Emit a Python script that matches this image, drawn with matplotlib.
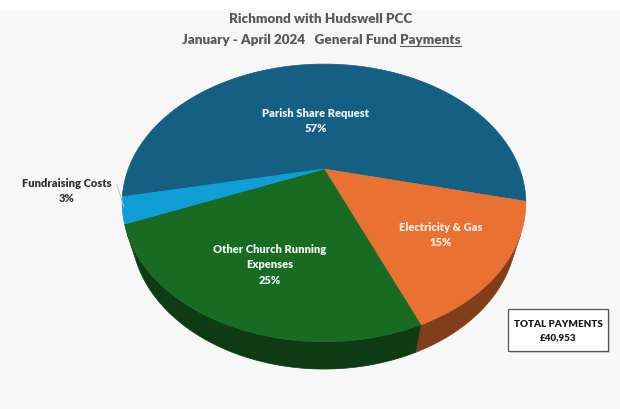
import numpy as np
import matplotlib
matplotlib.use("Agg")
import matplotlib.pyplot as plt
from matplotlib.patches import Polygon, Rectangle
from matplotlib.colors import to_rgb

# --- data ---
labels = ["Parish Share Request", "Electricity & Gas",
          "Other Church Running\nExpenses", "Fundraising Costs"]
percent = [57, 15, 25, 3]
colours = ["#156082", "#E97132", "#196B24", "#0F9ED5"]
total_text = "TOTAL PAYMENTS\n£40,953"

title_1 = "Richmond with Hudswell PCC"
title_2 = "January - April 2024   General Fund "
title_2_ul = "Payments"

plt.rcParams["font.family"] = ["Lato", "DejaVu Sans"]

# --- 3d pie projection (simple perspective camera) ---
CX, CY = 324, 170          # screen centre of the pie
SIN_E = 0.667
COS_E = np.sqrt(1 - SIN_E ** 2)
DIST = 3.05
FOC = 597
THICK = 0.202
START = 13.5               # degrees, first slice start, clockwise on screen


def project(t, z=0.0):
    px, py = np.cos(t), np.sin(t)
    depth = DIST - py * COS_E - z * SIN_E
    x = CX + FOC * px / depth
    y = CY + FOC * (py * SIN_E - z * COS_E) / depth
    return x, y


def darker(c, k=0.55):
    return tuple(v * k for v in to_rgb(c))


fig = plt.figure(figsize=(6.2, 4.1), dpi=100)
fig.patch.set_facecolor("#F7F7F7")
ax = fig.add_axes([0, 0, 1, 1])
ax.set_xlim(0, 620)
ax.set_ylim(410, 0)
ax.axis("off")
ax.add_patch(Rectangle((0, 0), 620, 10, color="white", zorder=0))

# slice angles
total = sum(percent)
angles = np.cumsum([0] + [p / total * 360 for p in percent])
# Parish Share is drawn first, starting so the second slice begins at START
a0 = np.radians(START - angles[1])
edges = a0 + np.radians(angles)

# visible part of the side wall
t_vis = np.arcsin(1 / (DIST * COS_E))
vis_lo, vis_hi = t_vis, np.pi - t_vis

# side walls
for i, col in enumerate(colours):
    lo, hi = edges[i], edges[i + 1]
    for shift in (0, 2 * np.pi, -2 * np.pi):
        s0 = max(lo + shift, vis_lo)
        s1 = min(hi + shift, vis_hi)
        if s1 <= s0:
            continue
        t = np.linspace(s0, s1, 80)
        xt, yt = project(t, 0)
        xb, yb = project(t[::-1], -THICK)
        pts = np.column_stack([np.r_[xt, xb], np.r_[yt, yb]])
        ax.add_patch(Polygon(pts, closed=True, facecolor=darker(col),
                             edgecolor=darker(col), lw=0.5, zorder=2))

# top faces
for i, col in enumerate(colours):
    t = np.linspace(edges[i], edges[i + 1], 200)
    x, y = project(t, 0)
    pts = np.column_stack([np.r_[CX, x], np.r_[CY, y]])
    ax.add_patch(Polygon(pts, closed=True, facecolor=col, edgecolor=col,
                         lw=0.5, zorder=3))

# --- labels ---
lab_kw = dict(ha="center", va="center", fontsize=8.0, fontweight="heavy",
              linespacing=1.5, zorder=5)
ax.text(316, 121, f"{labels[0]}\n{percent[0]}%", color="#EEF5F8", **lab_kw)
ax.text(441, 235, f"{labels[1]}\n{percent[1]}%", color="#FBEFE6", **lab_kw)
ax.text(270, 265, f"{labels[2]}\n{percent[2]}%", color="#EEF6EE", **lab_kw)
ax.text(67, 191, f"{labels[3]}\n{percent[3]}%", color="#333333", **lab_kw)
ax.plot([117, 124], [186, 208], color="#BBBBBB", lw=0.6, zorder=4)

# --- titles ---
t_kw = dict(fontsize=9.7, fontweight="heavy", color="#595959", va="baseline")
ax.text(321, 23, title_1, ha="center", **t_kw)
left = ax.text(400, 44, title_2, ha="right", **t_kw)
ul = ax.text(400, 44, title_2_ul, ha="left", **t_kw)
fig.canvas.draw()
bb = ul.get_window_extent().transformed(ax.transData.inverted())
ax.plot([bb.x0, bb.x1], [46.5, 46.5], color="#595959", lw=0.8)

# --- total box ---
ax.add_patch(Rectangle((510, 312), 100, 42, facecolor="#D8D8D8",
                       edgecolor="none", zorder=5))
ax.add_patch(Rectangle((508, 310), 100, 42, facecolor="white",
                       edgecolor="#555555", lw=0.9, zorder=6))
ax.text(558, 331, total_text, ha="center", va="center", fontsize=7.1,
        fontweight="heavy", color="#1A1A1A", linespacing=1.6, zorder=7)

fig.savefig("out.png", dpi=100, facecolor=fig.get_facecolor())
